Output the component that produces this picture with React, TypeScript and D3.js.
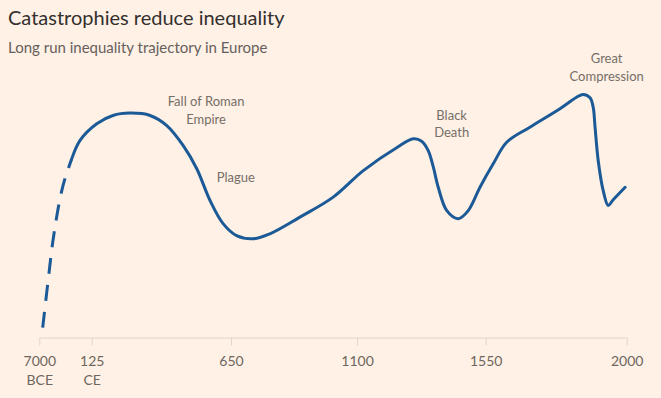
import React, { useRef, useEffect } from 'react';
import * as d3 from 'd3';

const W = 661;
const H = 398;

// x axis ticks (years, negative = BCE) and their two-line labels
const tickYears = [-7000, 125, 650, 1100, 1550, 2000];
const tickLine1 = ['7000', '125', '650', '1100', '1550', '2000'];
const tickLine2 = ['BCE', 'CE', '', '', '', ''];

// speculative prehistoric part (dashed)
const earlyYears = [-6540, -5640, -5180, -4180, -3500, -2590];
const earlyIndex = [3.8, 25.8, 36.5, 53.5, 61.2, 68.7];

// main trajectory (solid), stylised inequality index
const mainYears = [
  -2590, -1460, 144, 205, 269, 345, 408, 470, 521, 571, 621, 670, 730, 789, 896,
  1015, 1122, 1240, 1297, 1326, 1349, 1367, 1384, 1414, 1454, 1489, 1530, 1574,
  1617, 1691, 1787, 1840, 1861, 1883, 1893, 1899, 1909, 1925, 1941, 1957, 1995,
];
const mainIndex = [
  68.7, 75.8, 82.2, 85.4, 86.3, 85.4, 81.5, 73.8, 64.9, 52.7, 43.7, 39.2, 38, 39.9,
  46.3, 54, 64.2, 73.1, 76.4, 75.5, 71.9, 65.5, 57.8, 48.8, 45.7, 48.8, 57.8, 66.8,
  75.1, 80.9, 88, 92.4, 93.5, 92.2, 88.6, 80.9, 68.1, 56.5, 50.8, 53, 57.8,
];

// event annotations
const eventLabels = [['Fall of Roman', 'Empire'], ['Plague'], ['Black', 'Death'], ['Great', 'Compression']];
const eventYears = [556, 667, 1431, 1936];
const eventIndex = [89, 59.7, 83.7, 105.5];

const FONT = 'Lato, "Noto Sans", sans-serif';

const App = () => {
  const svgRef = useRef<SVGSVGElement>(null);

  useEffect(() => {
    const svg = d3.select(svgRef.current);
    svg.selectAll('*').remove();

    svg.append('rect').attr('width', W).attr('height', H).attr('fill', '#fff1e5');

    // piecewise x scale: the ticks are not evenly spaced in time
    const x = d3
      .scaleLinear()
      .domain(tickYears)
      .range([39.3, 91.7, 231, 357, 485.7, 626.7]);

    const y = d3.scaleLinear().domain([0, 100]).range([337.5, 77.5]);

    // title + subtitle
    svg
      .append('text')
      .attr('x', 8)
      .attr('y', 25)
      .attr('font-family', FONT)
      .attr('font-size', 20)
      .attr('fill', '#33302e')
      .text('Catastrophies reduce inequality');

    svg
      .append('text')
      .attr('x', 8)
      .attr('y', 53)
      .attr('font-family', FONT)
      .attr('font-size', 15)
      .attr('fill', '#66605c')
      .text('Long run inequality trajectory in Europe');

    // x axis
    const axis = svg
      .append('g')
      .attr('transform', `translate(0, ${y(0)})`)
      .call(
        d3
          .axisBottom(x)
          .tickValues(tickYears)
          .tickSize(8)
          .tickSizeOuter(0)
          .tickFormat(() => '')
      );
    axis.select('.domain').attr('stroke', '#e0d6cc');
    axis.selectAll('.tick line').attr('stroke', '#e0d6cc');
    axis.selectAll('.tick text').remove();

    const labels = axis
      .selectAll('.tick')
      .append('text')
      .attr('text-anchor', 'middle')
      .attr('font-family', FONT)
      .attr('font-size', 14)
      .attr('fill', '#6e6660');
    labels
      .append('tspan')
      .attr('x', 0)
      .attr('y', 28.5)
      .text((_d, i) => tickLine1[i]);
    labels
      .append('tspan')
      .attr('x', 0)
      .attr('y', 47)
      .text((_d, i) => tickLine2[i]);

    const line = d3
      .line<number>()
      .x(d => x(d))
      .curve(d3.curveCatmullRom.alpha(0.5));

    // dashed early segment
    svg
      .append('path')
      .attr('d', line.y((_d, i) => y(earlyIndex[i]))(earlyYears))
      .attr('fill', 'none')
      .attr('stroke', '#1b5a97')
      .attr('stroke-width', 3)
      .attr('stroke-dasharray', '16,11');

    // solid main segment
    svg
      .append('path')
      .attr('d', line.y((_d, i) => y(mainIndex[i]))(mainYears))
      .attr('fill', 'none')
      .attr('stroke', '#1b5a97')
      .attr('stroke-width', 3)
      .attr('stroke-linejoin', 'round')
      .attr('stroke-linecap', 'round');

    // annotations
    eventLabels.forEach((lines, i) => {
      const t = svg
        .append('text')
        .attr('text-anchor', 'middle')
        .attr('font-family', FONT)
        .attr('font-size', 13)
        .attr('fill', '#766e68');
      lines.forEach((s, j) => {
        t.append('tspan')
          .attr('x', x(eventYears[i]))
          .attr('y', y(eventIndex[i]) + j * 17.5)
          .text(s);
      });
    });
  }, []);

  return (
    <svg
      ref={svgRef}
      width={W}
      height={H}
      style={{ position: 'absolute', left: 0, top: 0, display: 'block' }}
    />
  );
};

export default App;
